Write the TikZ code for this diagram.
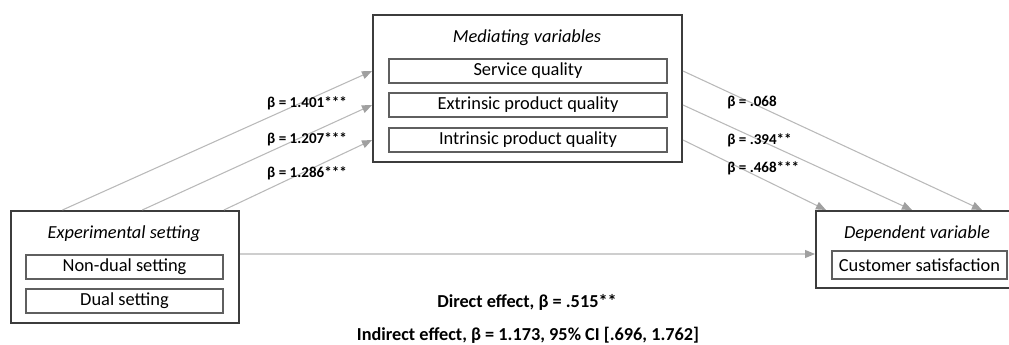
\documentclass[tikz,border=0pt]{standalone}
\usepackage{fontspec}
\setmainfont{Carlito}
\usetikzlibrary{arrows.meta,calc}
\definecolor{box_grey}{RGB}{60,60,60}
\definecolor{inner_grey}{RGB}{95,95,95}
\definecolor{path_grey}{RGB}{185,185,185}
\definecolor{tip_grey}{RGB}{160,160,160}
\tikzstyle{outer}=[rectangle,draw=box_grey,line width=1.5pt,inner sep=0pt]
\tikzstyle{inner}=[rectangle,draw=inner_grey,line width=0.9pt,inner sep=0pt,
  minimum height=18pt,font=\fontsize{13.8}{16}\selectfont]
\tikzstyle{title}=[inner sep=0pt,font=\fontsize{13.8}{16}\selectfont\itshape]
\tikzstyle{coef}=[inner sep=0pt,font=\fontsize{11.3}{13}\selectfont\bfseries]
\tikzstyle{effect}=[inner sep=0pt,font=\fontsize{13.7}{16}\selectfont\bfseries]
\tikzstyle{path}=[draw=path_grey,line width=0.8pt,
  -{Triangle[length=7.5pt,width=6pt,fill=tip_grey,color=tip_grey]}]

\begin{document}
\begin{tikzpicture}[x=0.75pt,y=-0.75pt]
    \clip (0,0) rectangle (1009,345);
    % boxes
    \node [style=outer,minimum width=171pt,minimum height=84pt] (exp) at (125,267) {};
    \node [style=outer,minimum width=231.75pt,minimum height=110.25pt] (med) at (527.5,88.5) {};
    \node [style=outer,minimum width=157.5pt,minimum height=57.75pt] (dep) at (921,249.5) {};
    \node [style=title] (exptitle) at (124,234) {Experimental setting};
    \node [style=title] (medtitle) at (527,38) {Mediating variables};
    \node [style=title] (deptitle) at (917,234) {Dependent variable};
    \node [style=inner,minimum width=147.75pt] (nondual) at (124.5,267) {Non-dual setting};
    \node [style=inner,minimum width=147.75pt] (dual) at (124.5,301) {Dual setting};
    \node [style=inner,minimum width=208.5pt] (svc) at (528,71) {Service quality};
    \node [style=inner,minimum width=208.5pt] (ext) at (528,105) {Extrinsic product quality};
    \node [style=inner,minimum width=208.5pt] (int) at (528,140) {Intrinsic product quality};
    \node [style=inner,minimum width=131.25pt,minimum height=21pt] (cust) at (919.5,265) {Customer satisfaction};
    % end points
    \coordinate (s1) at ($(exp.north west)!0.228!(exp.north east)$);
    \coordinate (s2) at ($(exp.north west)!0.575!(exp.north east)$);
    \coordinate (s3) at ($(exp.north west)!0.93!(exp.north east)$);
    \coordinate (t1) at ([xshift=8.25pt]dep.north west);
    \coordinate (t2) at ([xshift=72.75pt]dep.north west);
    \coordinate (t3) at ([xshift=125.25pt]dep.north west);
    \coordinate (d0) at ([yshift=9.75pt]exp.east);
    % paths
    \draw [style=path] (s1) to (med.west |- svc.west);
    \draw [style=path] (s2) to (med.west |- ext.west);
    \draw [style=path] (s3) to (med.west |- int.west);
    \draw [style=path] (med.east |- svc.east) to (t3);
    \draw [style=path] (med.east |- ext.east) to (t2);
    \draw [style=path] (med.east |- int.east) to (t1);
    \draw [style=path,draw=path_grey!70] (d0) to (dep.west |- d0);
    % coefficients
    \node [style=coef] (a1) at (307,103) {β = 1.401***};
    \node [style=coef] (a2) at (307,139) {β = 1.207***};
    \node [style=coef] (a3) at (307,173) {β = 1.286***};
    \node [style=coef,anchor=west] (b1) at (727,103) {β = .068};
    \node [style=coef,anchor=west] (b2) at (727,140) {β = .394**};
    \node [style=coef,anchor=west] (b3) at (727,168) {β = .468***};
    \node [style=effect] (direct) at (527,302) {Direct effect, β = .515**};
    \node [style=effect] (indirect) at (528,335) {Indirect effect, β = 1.173, 95\% CI [.696, 1.762]};
\end{tikzpicture}
\end{document}
